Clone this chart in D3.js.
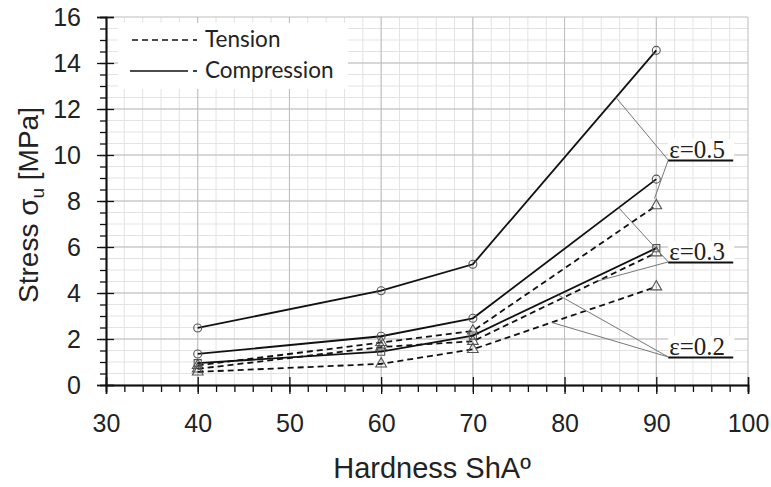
<!DOCTYPE html>
<html><head><meta charset="utf-8">
<script src="https://cdn.jsdelivr.net/npm/d3@7"></script>
<style>body{margin:0;background:#fff}svg{display:block}</style>
</head><body>
<svg id="c" width="771" height="487"></svg>
<script>
// ---- data ----
const hardness = [40, 60, 70, 90];
const compression05 = [2.48, 4.10, 5.25, 14.55];
const compression03 = [1.35, 2.12, 2.90, 8.95];
const compression02 = [0.95, 1.45, 2.15, 5.95];
const tension05 = [0.85, 1.85, 2.35, 7.80];
const tension03 = [0.70, 1.65, 1.90, 5.75];
const tension02 = [0.57, 0.92, 1.55, 4.27];
const xTicks = [30, 40, 50, 60, 70, 80, 90, 100];
const yTicks = [0, 2, 4, 6, 8, 10, 12, 14, 16];
const legendLabels = ["Tension", "Compression"];
const strainLabels = ["ε=0.5", "ε=0.3", "ε=0.2"];

const svg = d3.select("#c");
const x = d3.scaleLinear().domain([30, 100]).range([106, 748]);
const y = d3.scaleLinear().domain([0, 16]).range([385, 17]);

// grid
const g = svg.append("g");
g.selectAll(".vmin").data(d3.range(32, 100, 2)).join("line")
  .attr("x1", d => x(d)).attr("x2", d => x(d)).attr("y1", y(16)).attr("y2", y(0))
  .attr("stroke", "#e3e3e3").attr("stroke-width", 1);
g.selectAll(".hmin").data(d3.range(0.5, 16, 0.5)).join("line")
  .attr("x1", x(30)).attr("x2", x(100)).attr("y1", d => y(d)).attr("y2", d => y(d))
  .attr("stroke", "#e3e3e3").attr("stroke-width", 1);
g.selectAll(".vmaj").data(xTicks.slice(1)).join("line")
  .attr("x1", d => x(d)).attr("x2", d => x(d)).attr("y1", y(16)).attr("y2", y(0))
  .attr("stroke", "#bdbdbd").attr("stroke-width", 1);
g.selectAll(".hmaj").data(yTicks.slice(1)).join("line")
  .attr("x1", x(30)).attr("x2", x(100)).attr("y1", d => y(d)).attr("y2", d => y(d))
  .attr("stroke", "#bdbdbd").attr("stroke-width", 1);

// legend background
svg.append("rect").attr("x", 118).attr("y", 23).attr("width", 230).attr("height", 66).attr("fill", "#fff");

// axes
function styleAxis(sel) {
  sel.select(".domain").attr("stroke", "#111").attr("stroke-width", 1.5);
  sel.selectAll(".tick line").attr("stroke", "#111").attr("stroke-width", 1.3);
}
const fontTick = "Liberation Sans, Arial, sans-serif";
svg.append("g").attr("transform", `translate(0,${y(0)})`)
  .call(d3.axisBottom(x).tickValues(d3.range(30, 101, 2)).tickSize(7).tickFormat(""))
  .call(styleAxis);
svg.append("g").attr("transform", `translate(0,${y(0)})`)
  .call(d3.axisTop(x).tickValues(xTicks).tickSize(8).tickFormat(""))
  .call(styleAxis);
svg.append("g").attr("transform", `translate(0,${y(0)})`)
  .call(d3.axisBottom(x).tickValues(xTicks).tickSize(9).tickPadding(20).tickFormat(d3.format("d")))
  .call(styleAxis)
  .call(s => s.selectAll("text").attr("font-family", fontTick).attr("font-size", 25).attr("fill", "#222"));
svg.append("g").attr("transform", `translate(${x(30)},0)`)
  .call(d3.axisLeft(y).tickValues(d3.range(0, 16.01, 0.5)).tickSize(6).tickFormat(""))
  .call(styleAxis);
svg.append("g").attr("transform", `translate(${x(30)},0)`)
  .call(d3.axisRight(y).tickValues(yTicks).tickSize(8).tickFormat(""))
  .call(styleAxis);
svg.append("g").attr("transform", `translate(${x(30)},0)`)
  .call(d3.axisLeft(y).tickValues(yTicks).tickSize(9).tickPadding(16).tickFormat(d3.format("d")))
  .call(styleAxis)
  .call(s => s.selectAll("text").attr("font-family", fontTick).attr("font-size", 25).attr("fill", "#222"));

// axis titles
svg.append("text").attr("x", 432).attr("y", 478)
  .attr("text-anchor", "middle").attr("font-family", fontTick).attr("font-size", 29).attr("fill", "#222")
  .text("Hardness ShAº");
const yt = svg.append("text").attr("transform", `translate(38,${205}) rotate(-90)`)
  .attr("text-anchor", "middle").attr("font-family", fontTick).attr("font-size", 28).attr("fill", "#222");
yt.append("tspan").text("Stress σ");
yt.append("tspan").attr("font-size", 19).attr("dy", 6).text("u");
yt.append("tspan").attr("dy", -6).text(" [MPa]");

// series
const series = [
  { vals: tension05, dash: "6,4", sym: d3.symbolTriangle },
  { vals: tension03, dash: "6,4", sym: d3.symbolTriangle },
  { vals: tension02, dash: "6,4", sym: d3.symbolTriangle },
  { vals: compression02, dash: null, sym: d3.symbolSquare },
  { vals: compression03, dash: null, sym: d3.symbolCircle },
  { vals: compression05, dash: null, sym: d3.symbolCircle },
];
const line = d3.line().x((d, i) => x(hardness[i])).y(d => y(d));
series.forEach(s => {
  svg.append("path").datum(s.vals).attr("d", line).attr("fill", "none")
    .attr("stroke", "#111").attr("stroke-width", 1.8)
    .attr("stroke-dasharray", s.dash);
  svg.selectAll(null).data(s.vals).join("path")
    .attr("transform", (d, i) => `translate(${x(hardness[i])},${y(d)})`)
    .attr("d", d3.symbol(s.sym, 50))
    .attr("fill", "none").attr("stroke", "#555").attr("stroke-width", 1.1);
});

// annotations
function interp(vals, h) {
  return d3.scaleLinear().domain(hardness).range(vals)(h);
}
const ann = [
  { text: strainLabels[0], h: 91.3, v: 9.78, ends: [[85.6, interp(compression05, 85.6)], [89.8, 8.1]] },
  { text: strainLabels[1], h: 91.3, v: 5.35, ends: [[85.9, interp(compression03, 85.9)], [83.6, interp(tension03, 83.6)]] },
  { text: strainLabels[2], h: 91.3, v: 1.22, ends: [[79.3, interp(compression02, 79.3)], [78.6, interp(tension02, 78.6)]] },
];
ann.forEach(a => {
  a.ends.forEach(e => {
    svg.append("line").attr("x1", x(e[0])).attr("y1", y(e[1])).attr("x2", x(a.h)).attr("y2", y(a.v))
      .attr("stroke", "#777").attr("stroke-width", 1);
  });
  svg.append("rect").attr("x", x(a.h)).attr("y", y(a.v) - 21).attr("width", 66).attr("height", 20).attr("fill", "#fff");
  svg.append("text").attr("x", x(a.h) + 1).attr("y", y(a.v) - 2)
    .attr("font-family", "Liberation Serif, Times New Roman, serif").attr("font-size", 25).attr("fill", "#222")
    .text(a.text);
  svg.append("line").attr("x1", x(a.h)).attr("x2", x(a.h) + 65).attr("y1", y(a.v) + 0.5).attr("y2", y(a.v) + 0.5)
    .attr("stroke", "#111").attr("stroke-width", 2);
});

// legend
const lg = [{ dash: "6,4", label: legendLabels[0], yy: 40 }, { dash: null, label: legendLabels[1], yy: 71 }];
lg.forEach((l, i) => {
  svg.append("line").attr("x1", 130 + (i ? 0 : 2)).attr("x2", 188).attr("y1", l.yy).attr("y2", l.yy)
    .attr("stroke", "#111").attr("stroke-width", 1.6).attr("stroke-dasharray", l.dash);
  svg.append("line").attr("x1", 193).attr("x2", 197).attr("y1", l.yy).attr("y2", l.yy)
    .attr("stroke", "#111").attr("stroke-width", 1.6);
  svg.append("text").attr("x", 205).attr("y", l.yy + 7).attr("font-family", "Lato, Liberation Sans, sans-serif")
    .attr("font-size", 22.5).attr("fill", "#222").text(l.label);
});
</script>
</body></html>
